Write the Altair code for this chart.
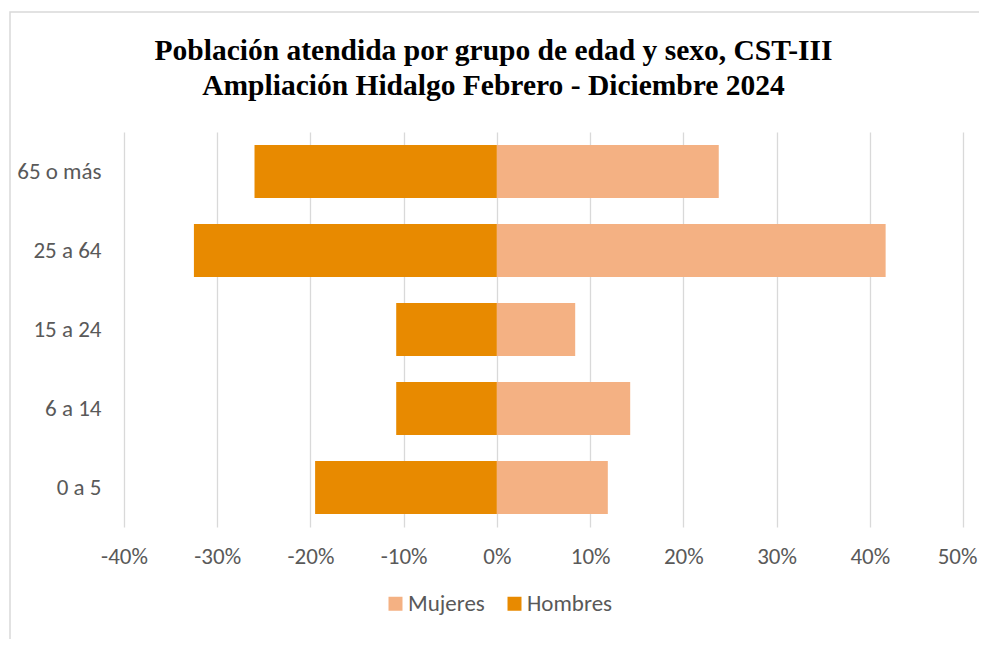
import altair as alt
import pandas as pd

grupos = ["65 o más", "25 a 64", "15 a 24", "6 a 14", "0 a 5"]
hombres = [-26.0, -32.5, -10.8, -10.8, -19.5]
mujeres = [23.8, 41.7, 8.4, 14.3, 11.9]
x_ticks = [-40, -30, -20, -10, 0, 10, 20, 30, 40, 50]
series = ["Mujeres", "Hombres"]
colores = ["#F4B183", "#E88A00"]
titulo = ["Población atendida por grupo de edad y sexo, CST-III",
          "Ampliación Hidalgo Febrero - Diciembre 2024"]

rows = []
for g, h, m in zip(grupos, hombres, mujeres):
    rows.append({"grupo": g, "sexo": "Hombres", "valor": h})
    rows.append({"grupo": g, "sexo": "Mujeres", "valor": m})
df = pd.DataFrame(rows)

FONT = "Carlito, Calibri, Lato"
GRAY = "#595959"

bars = alt.Chart(df).mark_bar().encode(
    y=alt.Y("grupo:N", sort=grupos, title=None,
            scale=alt.Scale(paddingInner=0.33, paddingOuter=0.165),
            axis=alt.Axis(ticks=False, domain=False, grid=False, labelPadding=23,
                          labelFontSize=23, labelFont=FONT, labelColor=GRAY)),
    x=alt.X("valor:Q", stack=None, title=None,
            scale=alt.Scale(domain=[-40, 50], nice=False),
            axis=alt.Axis(values=x_ticks, labelExpr="datum.value + '%'", ticks=False,
                          domain=False, grid=True, gridColor="#D9D9D9", gridWidth=1.3,
                          labelFlush=False, labelPadding=18, labelFontSize=23,
                          labelOffset={"expr": "datum.value == 50 ? -6 : 0"},
                          labelFont=FONT, labelColor=GRAY)),
    color=alt.Color("sexo:N", scale=alt.Scale(domain=series, range=colores),
                    legend=alt.Legend(title=None, orient="none", direction="horizontal",
                                      legendX=260, legendY=460, symbolType="square",
                                      symbolSize=196, symbolStrokeWidth=0,
                                      labelFontSize=23, labelFont=FONT, labelColor=GRAY,
                                      columnPadding=18, labelOffset=1, padding=0)),
)

border = alt.Chart(pd.DataFrame({"k": [0]})).mark_rect(
    fillOpacity=0, stroke="#D9D9D9", strokeWidth=1.5
).encode(x=alt.value(-114), x2=alt.value(880), y=alt.value(-120), y2=alt.value(540))

chart = alt.layer(border, bars).properties(
    width=839, height=395,
    autosize=alt.AutoSizeParams(type="none"),
    padding={"left": 116, "top": 124, "right": 16, "bottom": 112},
    title=alt.Title(titulo, font="Liberation Serif", fontSize=29.5, fontWeight="bold",
                    color="black", anchor="middle", frame="group", dx=-50,
                    offset=-90, lineHeight=35),
).configure_view(strokeWidth=0)

chart.save("out.html", embed_options={"renderer": "svg", "actions": False})
